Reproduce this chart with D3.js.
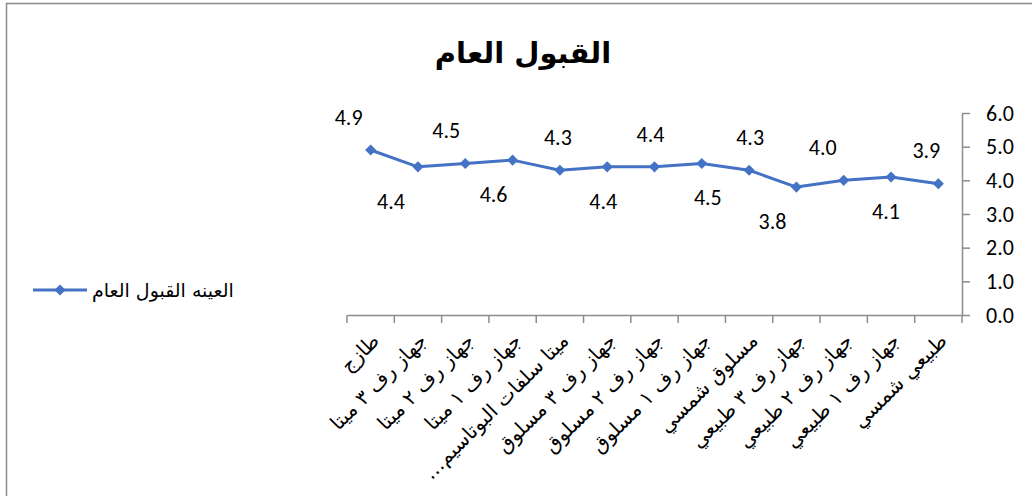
<!DOCTYPE html>
<html>
<head>
<meta charset="utf-8">
<script src="https://cdn.jsdelivr.net/npm/d3@7"></script>
<style>
  html, body { margin: 0; padding: 0; background: #fff; }
  svg { display: block; }
</style>
</head>
<body>
<svg id="chart" width="1032" height="496"></svg>
<script>
// Categories along the horizontal axis, left to right
const categories = [
  "طازج",
  "جهاز رف ٣ ميتا",
  "جهاز رف ٢ ميتا",
  "جهاز رف ١ ميتا",
  "ميتا سلفات البوتاسيم…",
  "جهاز رف ٣ مسلوق",
  "جهاز رف ٢ مسلوق",
  "جهاز رف ١ مسلوق",
  "مسلوق شمسي",
  "جهاز رف ٣ طبيعي",
  "جهاز رف ٢ طبيعي",
  "جهاز رف ١ طبيعي",
  "طبيعي شمسي"
];

// General acceptance score for each sample
const acceptance = [4.9, 4.4, 4.5, 4.6, 4.3, 4.4, 4.4, 4.5, 4.3, 3.8, 4.0, 4.1, 3.9];

const yTicks = [0, 1, 2, 3, 4, 5, 6];

const seriesName = "العينه القبول العام";
const chartTitle = "القبول العام";

// ---- drawing ----
const svg = d3.select("#chart");
const arabicFont = "'DejaVu Sans', sans-serif";
const numberFont = "Carlito, Lato, 'Open Sans', sans-serif";
const axisColor = "#8c8c8c";
const lineColor = "#4472C4";

// outer chart frame
svg.append("rect")
  .attr("x", 6.5).attr("y", 3.5)
  .attr("width", 1040).attr("height", 500)
  .attr("fill", "#fff")
  .attr("stroke", axisColor).attr("stroke-width", 1.5);

const plot = { left: 347, right: 962, top: 113, bottom: 315 };

const x = d3.scaleBand()
  .domain(categories)
  .range([plot.left, plot.right]);

const y = d3.scaleLinear()
  .domain([0, 6])
  .range([plot.bottom, plot.top]);

// title
svg.append("text")
  .attr("x", 523).attr("y", 63)
  .attr("text-anchor", "middle")
  .attr("font-family", arabicFont)
  .attr("font-weight", "bold")
  .attr("font-size", 29)
  .attr("fill", "#000")
  .text(chartTitle);

// value axis on the right
const yAxis = svg.append("g")
  .attr("transform", `translate(${plot.right},0)`)
  .call(d3.axisRight(y)
    .tickValues(yTicks)
    .tickFormat(d3.format(".1f"))
    .tickSize(8)
    .tickSizeOuter(0)
    .tickPadding(16));
yAxis.select(".domain").attr("stroke", axisColor).attr("stroke-width", 1.5);
yAxis.selectAll(".tick line").attr("stroke", axisColor).attr("stroke-width", 1.5);
yAxis.selectAll(".tick text")
  .attr("font-family", numberFont)
  .attr("font-size", 22)
  .attr("fill", "#000");

// category axis along the bottom, ticks between categories
const xAxis = svg.append("g")
  .attr("transform", `translate(0,${plot.bottom})`)
  .call(d3.axisBottom(x).tickSize(0).tickFormat(""));
xAxis.select(".domain").attr("stroke", axisColor).attr("stroke-width", 1.5);
xAxis.selectAll(".tick").remove();

const boundaries = categories.map(c => x(c)).concat([x.range()[1]]);
xAxis.selectAll("line.sep")
  .data(boundaries)
  .join("line")
  .attr("class", "sep")
  .attr("x1", d => d).attr("x2", d => d)
  .attr("y1", 0).attr("y2", 8)
  .attr("stroke", axisColor).attr("stroke-width", 1.5);

// rotated category labels
svg.append("g")
  .selectAll("text")
  .data(categories)
  .join("text")
  .attr("transform", d => `translate(${x(d) + x.bandwidth() / 2 + 5},${plot.bottom + 22}) rotate(-45)`)
  .attr("direction", "rtl")
  .attr("text-anchor", "start")
  .attr("dy", "0.35em")
  .attr("font-family", arabicFont)
  .attr("font-size", 20)
  .attr("fill", "#000")
  .text(d => d);

// series line
const cx = (d, i) => x(categories[i]) + x.bandwidth() / 2;
const line = d3.line()
  .x((d, i) => cx(d, i))
  .y(d => y(d));

svg.append("path")
  .datum(acceptance)
  .attr("d", line)
  .attr("fill", "none")
  .attr("stroke", lineColor)
  .attr("stroke-width", 3)
  .attr("stroke-linejoin", "round");

const marker = d3.symbol().type(d3.symbolSquare).size(62);
svg.append("g")
  .selectAll("path")
  .data(acceptance)
  .join("path")
  .attr("transform", (d, i) => `translate(${cx(d, i)},${y(d)}) rotate(45)`)
  .attr("d", marker)
  .attr("fill", lineColor);

// data labels, alternating above and below the line
const labelNudge = [-22, -27, -19, -19, -2, -4, -4, 6, 1, -24, -21, -5, -12];
svg.append("g")
  .selectAll("text")
  .data(acceptance)
  .join("text")
  .attr("x", (d, i) => cx(d, i) + labelNudge[i])
  .attr("y", (d, i) => y(d) + (i % 2 === 0 ? -33 : 34))
  .attr("dy", "0.35em")
  .attr("text-anchor", "middle")
  .attr("font-family", numberFont)
  .attr("font-size", 22)
  .attr("fill", "#000")
  .text(d => d3.format(".1f")(d));

// legend
const lg = svg.append("g").attr("transform", "translate(33,290)");
lg.append("line")
  .attr("x1", 0).attr("x2", 54)
  .attr("stroke", lineColor).attr("stroke-width", 3);
lg.append("path")
  .attr("transform", "translate(27,0) rotate(45)")
  .attr("d", marker)
  .attr("fill", lineColor);
lg.append("text")
  .attr("x", 59)
  .attr("dy", "0.35em")
  .attr("direction", "rtl")
  .attr("text-anchor", "end")
  .attr("font-family", arabicFont)
  .attr("font-size", 19)
  .attr("fill", "#000")
  .text(seriesName);
</script>
</body>
</html>
